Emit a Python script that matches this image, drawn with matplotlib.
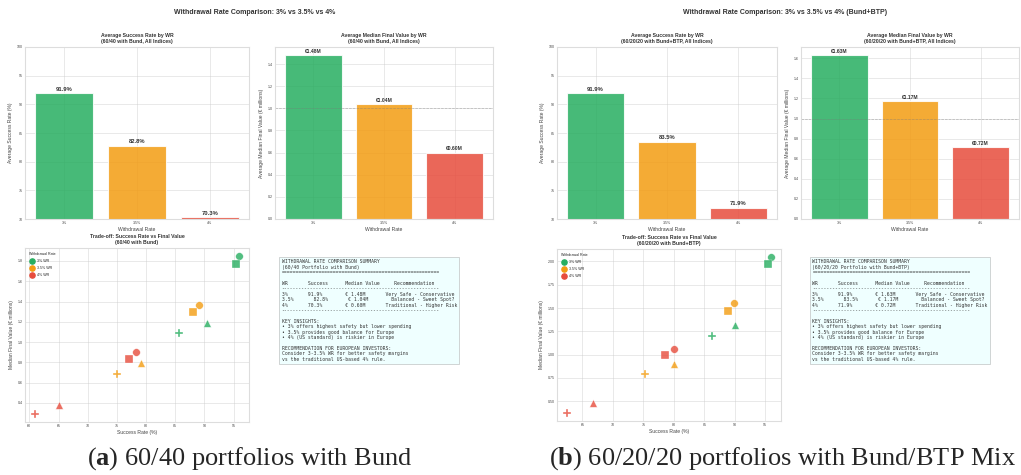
import numpy as np
import matplotlib
matplotlib.use('Agg')
import matplotlib.pyplot as plt

plt.style.use('seaborn-v0_8-whitegrid')
plt.rcParams['font.family'] = ['Liberation Sans', 'DejaVu Sans']
plt.rcParams['mathtext.fontset'] = 'custom'
plt.rcParams['mathtext.bf'] = 'Liberation Serif:bold'
plt.rcParams['mathtext.rm'] = 'Liberation Serif'

# withdrawal rates and colours
wr_labels = ['3%', '3.5%', '4%']
wr_legend = ['3% WR', '3.5% WR', '4% WR']
wr_colors = ['#27ae60', '#f39c12', '#e74c3c']
index_markers = ['o', 's', '^', 'P']

# 60/40 with Bund
bund_success = [91.9, 82.8, 70.3]
bund_value = [1.48, 1.04, 0.60]
# per-index (success %, median final value) for each WR
bund_idx_success = [[95.9, 95.5, 90.5, 85.7],
                    [89.0, 88.0, 79.2, 75.0],
                    [78.2, 77.0, 65.0, 61.0]]
bund_idx_value = [[1.85, 1.77, 1.19, 1.09],
                  [1.37, 1.30, 0.79, 0.69],
                  [0.90, 0.83, 0.38, 0.29]]

# 60/20/20 with Bund+BTP
mix_success = [91.9, 83.5, 71.9]
mix_value = [1.63, 1.17, 0.72]
mix_idx_success = [[95.9, 95.4, 90.1, 86.2],
                   [89.8, 88.9, 80.1, 75.2],
                   [80.0, 78.6, 66.8, 62.5]]
mix_idx_value = [[2.05, 1.97, 1.32, 1.20],
                 [1.55, 1.47, 0.90, 0.79],
                 [1.06, 0.99, 0.48, 0.37]]

recs = ['Very Safe - Conservative', 'Balanced - Sweet Spot?', 'Traditional - Higher Risk']

W, H = 1021, 475
fig = plt.figure(figsize=(W / 100, H / 100), dpi=100)


def px_axes(box):
    l, t, r, b = box
    return fig.add_axes([l / W, 1 - b / H, (r - l) / W, (b - t) / H])


def style_ax(ax):
    ax.tick_params(labelsize=2.6, colors='#444444', pad=1.5, length=0)
    for s in ax.spines.values():
        s.set_color('#dddddd')
        s.set_linewidth(0.8)
    ax.grid(True, color='#cccccc', linewidth=0.6, alpha=0.5)


def summary_text(name, succ, val):
    lines = ['WITHDRAWAL RATE COMPARISON SUMMARY', name, '=' * 55, '',
             'WR' + ' ' * 7 + 'Success' + ' ' * 6 + 'Median Value' + ' ' * 5 + 'Recommendation',
             '-' * 55]
    gaps = [(7, 8, 7), (7, 7, 8), (7, 8, 7)]
    for wr, s, v, r, g in zip(wr_labels, succ, val, recs, gaps):
        lines.append(wr + ' ' * g[0] + f'{s:.1f}%' + ' ' * g[1] + f'€ {v:.2f}M' + ' ' * g[2] + r)
    lines += ['-' * 55, '', 'KEY INSIGHTS:',
              '• 3% offers highest safety but lower spending',
              '• 3.5% provides good balance for Europe',
              '• 4% (US standard) is riskier in Europe', '',
              'RECOMMENDATION FOR EUROPEAN INVESTORS:',
              'Consider 3-3.5% WR for better safety margins',
              'vs the traditional US-based 4% rule.']
    return '\n'.join(lines)


def draw_panel(boxes, title_x, suptitle, tag, succ, val, idx_s, idx_v, boxname):
    # boxes: pixel rectangles (left, top, right, bottom) for the four axes
    fig.text(title_x / W, 1 - 12 / H, suptitle, ha='center', va='center',
             fontsize=5.0, fontweight='bold', color='#333333')

    # success rate bars
    ax1 = px_axes(boxes[0])
    x = np.arange(len(wr_labels))
    bars = ax1.bar(x, succ, width=0.8, color=wr_colors, alpha=0.85,
                   edgecolor='white', linewidth=0.8)
    for b, s in zip(bars, succ):
        ax1.text(b.get_x() + b.get_width() / 2, s + 0.3, f'{s:.1f}%', ha='center',
                 va='bottom', fontsize=4.2, fontweight='bold', color='#333333')
    ax1.set_ylim(70, 100)
    ax1.set_xticks(x)
    ax1.set_xticklabels(wr_labels)
    ax1.set_xlabel('Withdrawal Rate', fontsize=3.6, labelpad=1.5, color='#444444')
    ax1.set_ylabel('Average Success Rate (%)', fontsize=3.6, labelpad=3, color='#444444')
    ax1.set_title(f'Average Success Rate by WR\n({tag}, All Indices)', fontsize=3.7,
                  fontweight='bold', pad=3, color='#333333', linespacing=1.1)
    style_ax(ax1)

    # median final value bars
    ax2 = px_axes(boxes[1])
    bars = ax2.bar(x, val, width=0.8, color=wr_colors, alpha=0.85,
                   edgecolor='white', linewidth=0.8)
    for b, v in zip(bars, val):
        ax2.text(b.get_x() + b.get_width() / 2, v + 0.01, f'€{v:.2f}M', ha='center',
                 va='bottom', fontsize=3.6, fontweight='bold', color='#333333')
    ax2.axhline(1.0, color='gray', linestyle='--', linewidth=0.5, alpha=0.5)
    ax2.set_xticks(x)
    ax2.set_xticklabels(wr_labels)
    ax2.set_xlabel('Withdrawal Rate', fontsize=3.6, labelpad=1.5, color='#444444')
    ax2.set_ylabel('Average Median Final Value (€ millions)', fontsize=3.6, labelpad=3,
                   color='#444444')
    ax2.set_title(f'Average Median Final Value by WR\n({tag}, All Indices)', fontsize=3.7,
                  fontweight='bold', pad=3, color='#333333', linespacing=1.1)
    style_ax(ax2)

    # trade-off scatter
    ax3 = px_axes(boxes[2])
    for i in range(len(wr_labels)):
        for j, m in enumerate(index_markers):
            ax3.scatter(idx_s[i][j], idx_v[i][j], marker=m, s=30, color=wr_colors[i],
                        alpha=0.8, edgecolors='white', linewidths=0.3, zorder=3)
    handles = [ax3.scatter([], [], marker='o', s=14, color=c) for c in wr_colors]
    leg = ax3.legend(handles, wr_legend, title='Withdrawal Rate', loc='upper left',
                     fontsize=2.6, title_fontsize=2.6, frameon=False,
                     handletextpad=0.4, labelspacing=0.9, borderpad=0.5)
    leg._legend_box.align = 'left'
    ax3.set_xlabel('Success Rate (%)', fontsize=3.6, labelpad=1.5, color='#444444')
    ax3.set_ylabel('Median Final Value (€ millions)', fontsize=3.6, labelpad=3,
                   color='#444444')
    ax3.set_title(f'Trade-off: Success Rate vs Final Value\n({tag})', fontsize=3.7,
                  fontweight='bold', pad=3, color='#333333', linespacing=1.1)
    style_ax(ax3)

    # summary box
    ax4 = px_axes(boxes[3])
    ax4.axis('off')
    ax4.text(0.03, 0.935, summary_text(boxname, succ, val), transform=ax4.transAxes,
             ha='left', va='top', fontsize=3.4, family='DejaVu Sans Mono', color='#333333',
             linespacing=1.1,
             bbox=dict(boxstyle='square,pad=0.5', facecolor='#e0ffff', alpha=0.5,
                       edgecolor='#888888', linewidth=0.5))


left_boxes = [(25, 47, 249, 219), (275, 47, 493, 219), (25, 248, 249, 422), (275, 248, 493, 422)]
right_boxes = [(557, 47, 777, 219), (801, 47, 1019, 219), (557, 249, 781, 421), (806, 248, 1019, 422)]

draw_panel(left_boxes, 255, 'Withdrawal Rate Comparison: 3% vs 3.5% vs 4%', '60/40 with Bund',
           bund_success, bund_value, bund_idx_success, bund_idx_value,
           '(60/40 Portfolio with Bund)')
draw_panel(right_boxes, 785, 'Withdrawal Rate Comparison: 3% vs 3.5% vs 4% (Bund+BTP)',
           '60/20/20 with Bund+BTP', mix_success, mix_value,
           mix_idx_success, mix_idx_value, '(60/20/20 Portfolio with Bund+BTP)')

# sub-figure captions
fig.text(250 / W, 1 - 459 / H, r'($\mathbf{a}$) 60/40 portfolios with Bund', ha='center',
         va='center', fontsize=19, family='Liberation Serif')
fig.text(782 / W, 1 - 459 / H, r'($\mathbf{b}$) 60/20/20 portfolios with Bund/BTP Mix',
         ha='center', va='center', fontsize=19, family='Liberation Serif')

fig.savefig('out.png', dpi=100)
